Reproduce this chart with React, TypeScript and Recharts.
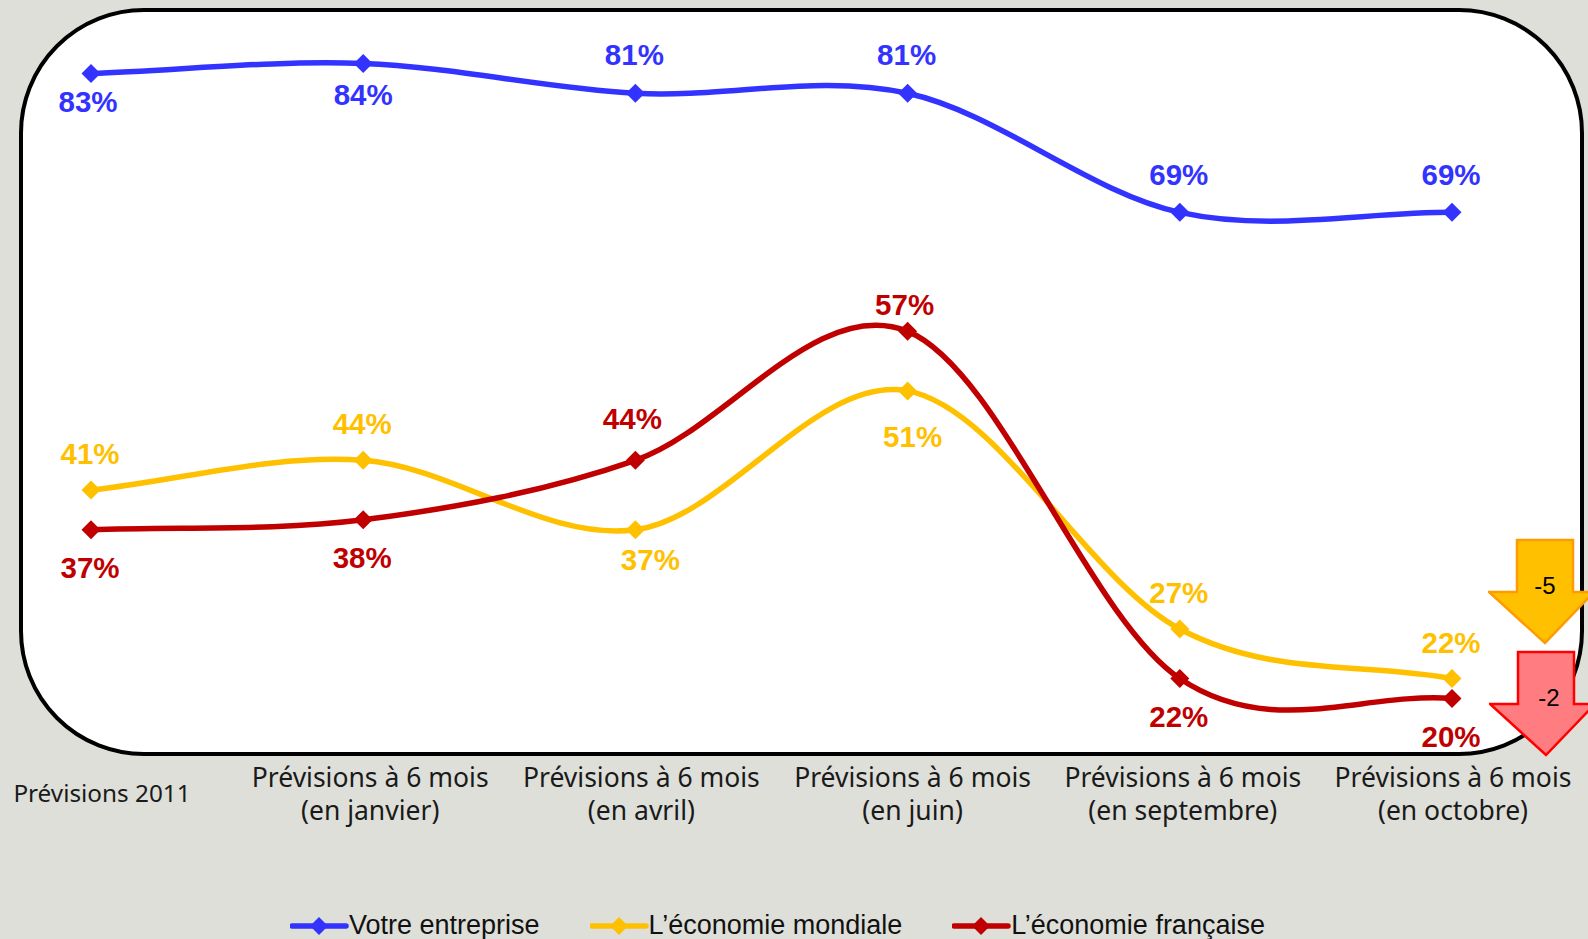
import { LineChart, Line, XAxis, YAxis, Legend } from "recharts";

const categories = [
  "Prévisions 2011",
  "Prévisions à 6 mois\n(en janvier)",
  "Prévisions à 6 mois\n(en avril)",
  "Prévisions à 6 mois\n(en juin)",
  "Prévisions à 6 mois\n(en septembre)",
  "Prévisions à 6 mois\n(en octobre)",
];
const entreprise = [83, 84, 81, 81, 69, 69];
const mondiale = [41, 44, 37, 51, 27, 22];
const francaise = [37, 38, 44, 57, 22, 20];

const BLUE = "#3333ff";
const GOLD = "#ffc000";
const RED = "#c00000";
const SANS = "'Liberation Sans', Arial, sans-serif";

// label offsets from each point
const blueOffsets = [[-3, 28], [0, 31], [-1, -39], [-1, -39], [-1, -38], [-1, -38]];
const goldOffsets = [[-1, -36], [-1, -37], [15, 30], [5, 46], [-1, -36], [-1, -36]];
const redOffsets = [[-1, 38], [-1, 38], [-3, -42], [-3, -27], [-1, 38], [-1, 38]];
const tickOffsets = [11, 7, 6, 5, 3, 1];

const chartData = categories.map((name, i) => ({
  name,
  entreprise: entreprise[i],
  mondiale: mondiale[i],
  francaise: francaise[i],
}));

// Office style smoothed line: catmull-rom tangents, 1/3 at both ends
function officeCurve(context: any) {
  let pts: number[][] = [];
  return {
    areaStart() {},
    areaEnd() {},
    lineStart() {
      pts = [];
    },
    point(x: number, y: number) {
      pts.push([+x, +y]);
    },
    lineEnd() {
      pts.forEach((p, i) => {
        if (i === 0) {
          context.moveTo(p[0], p[1]);
          return;
        }
        const p1 = pts[i - 1];
        const p0 = pts[i - 2];
        const p3 = pts[i + 1];
        const c1 = p0
          ? [p1[0] + (p[0] - p0[0]) / 6, p1[1] + (p[1] - p0[1]) / 6]
          : [p1[0] + (p[0] - p1[0]) / 3, p1[1] + (p[1] - p1[1]) / 3];
        const c2 = p3
          ? [p[0] - (p3[0] - p1[0]) / 6, p[1] - (p3[1] - p1[1]) / 6]
          : [p[0] - (p[0] - p1[0]) / 3, p[1] - (p[1] - p1[1]) / 3];
        context.bezierCurveTo(c1[0], c1[1], c2[0], c2[1], p[0], p[1]);
      });
    },
  };
}

const diamond = (cx: number, cy: number, r: number) =>
  `${cx - r},${cy} ${cx},${cy - r} ${cx + r},${cy} ${cx},${cy + r}`;

const renderDot = (color: string) => (props: any) => (
  <polygon key={props.index} points={diamond(props.cx, props.cy, 9.5)} fill={color} />
);

const renderLabel = (color: string, offsets: number[][]) => (props: any) => {
  const [dx, dy] = offsets[props.index];
  return (
    <text
      key={props.index}
      x={props.x + dx}
      y={props.y + dy}
      dy="0.35em"
      textAnchor="middle"
      fontFamily={SANS}
      fontWeight="bold"
      fontSize={29.5}
      fill={color}
    >
      {props.value}%
    </text>
  );
};

function CategoryTick({ x, y, payload, index }: any) {
  const lines = String(payload.value).split("\n");
  const single = lines.length === 1;
  const tx = x + tickOffsets[index];
  return (
    <text
      textAnchor="middle"
      fontFamily="'Noto Sans', sans-serif"
      fontSize={single ? 24.3 : 26.5}
      fill="#1a1a1a"
    >
      {single ? (
        <tspan x={tx} y={y + 46}>
          {lines[0]}
        </tspan>
      ) : (
        lines.map((line, i) => (
          <tspan key={line} x={tx} y={y + 31 + i * 33}>
            {line}
          </tspan>
        ))
      )}
    </text>
  );
}

function LegendContent({ payload }: any) {
  return (
    <div style={{ display: "flex", gap: 50, alignItems: "center", whiteSpace: "nowrap" }}>
      {(payload || []).map((item: any) => (
        <div key={item.value} style={{ display: "flex", alignItems: "center" }}>
          <svg width={59} height={20}>
            <line x1={2} x2={56} y1={10} y2={10} stroke={item.color} strokeWidth={5.5} strokeLinecap="round" />
            <polygon points={diamond(29, 10, 9)} fill={item.color} />
          </svg>
          <span style={{ fontFamily: SANS, fontSize: 27, color: "#111" }}>{item.value}</span>
        </div>
      ))}
    </div>
  );
}

function Arrow({ left, top, fill, stroke, text, textX }: any) {
  return (
    <svg width={110} height={112} style={{ position: "absolute", left, top }}>
      <polygon
        points="29,2 85,2 85,54 106,54 57,105 1,54 29,54"
        fill={fill}
        stroke={stroke}
        strokeWidth={2.5}
      />
      <text x={textX} y={56} textAnchor="middle" fontFamily={SANS} fontSize={24} fill="#000">
        {text}
      </text>
    </svg>
  );
}

export default function App() {
  return (
    <div
      style={{
        position: "absolute",
        left: 0,
        top: 0,
        width: 1588,
        height: 939,
        overflow: "hidden",
        background: "#dedfd9",
      }}
    >
      <div
        style={{
          position: "absolute",
          left: 19,
          top: 8,
          width: 1557,
          height: 740,
          background: "#fff",
          border: "4px solid #000",
          borderRadius: 125,
        }}
      />
      <div style={{ position: "absolute", left: 0, top: 0 }}>
        <LineChart
          width={1588}
          height={939}
          data={chartData}
          margin={{ top: 4, right: 136, bottom: 91, left: 91 }}
        >
          <XAxis
            dataKey="name"
            scale="point"
            padding={{ left: 0, right: 0 }}
            height={100}
            interval={0}
            axisLine={false}
            tickLine={false}
            tick={<CategoryTick />}
          />
          <YAxis hide domain={[15, 90]} />
          <Legend
            verticalAlign="middle"
            layout="horizontal"
            itemSorter={null}
            content={<LegendContent />}
            wrapperStyle={{ left: 290, top: 910, width: 1000 }}
          />
          <Line
            dataKey="entreprise"
            name="Votre entreprise"
            type={officeCurve as any}
            stroke={BLUE}
            strokeWidth={5.5}
            dot={renderDot(BLUE)}
            label={renderLabel(BLUE, blueOffsets)}
            isAnimationActive={false}
          />
          <Line
            dataKey="mondiale"
            name="L’économie mondiale"
            type={officeCurve as any}
            stroke={GOLD}
            strokeWidth={5.5}
            dot={renderDot(GOLD)}
            label={renderLabel(GOLD, goldOffsets)}
            isAnimationActive={false}
          />
          <Line
            dataKey="francaise"
            name="L’économie française"
            type={officeCurve as any}
            stroke={RED}
            strokeWidth={5.5}
            dot={renderDot(RED)}
            label={renderLabel(RED, redOffsets)}
            isAnimationActive={false}
          />
        </LineChart>
      </div>
      <Arrow left={1488} top={538} fill="#ffc000" stroke="#ff9a00" text="-5" textX={57} />
      <Arrow left={1489} top={650} fill="#ff7c80" stroke="#ff0000" text="-2" textX={60} />
    </div>
  );
}
